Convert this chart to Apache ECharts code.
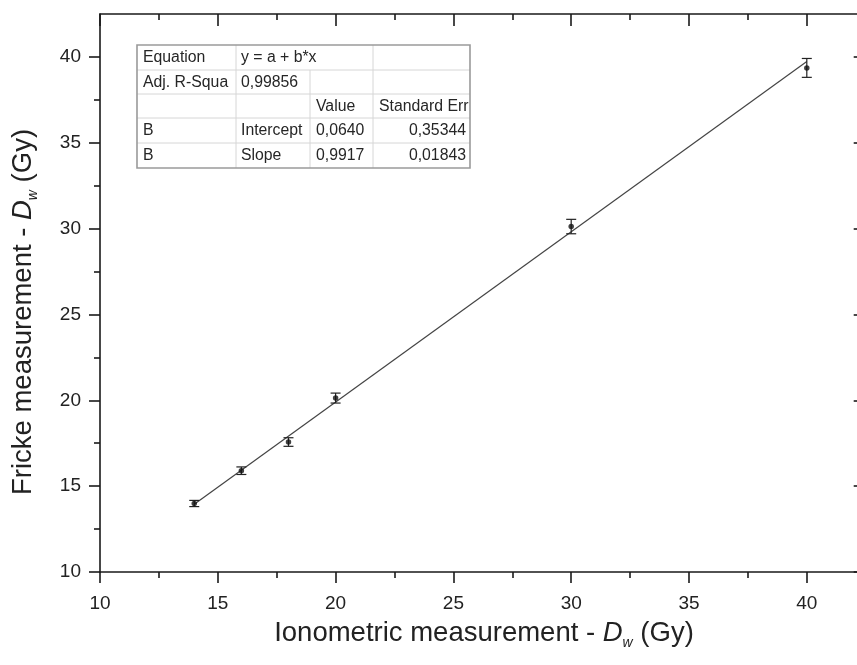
<!DOCTYPE html>
<html>
<head>
<meta charset="utf-8">
<script src="https://cdn.jsdelivr.net/npm/echarts@6/dist/echarts.min.js"></script>
<style>
html,body{margin:0;padding:0;background:#fff;overflow:hidden;width:857px;height:665px}
#c{width:866px;height:665px}
</style>
</head>
<body>
<div id="c"></div>
<script>
// ---- data ----
const ionometric = [14, 16, 18, 20, 30, 40];
const fricke     = [13.99, 15.9, 17.57, 20.13, 30.12, 39.36];
const frickeErr  = [0.18, 0.22, 0.25, 0.29, 0.42, 0.55];
const fitX = [14, 40];
const fitY = [13.95, 39.73];
const majorTicks = [10, 15, 20, 25, 30, 35, 40];
const minorTicks = [12.5, 17.5, 22.5, 27.5, 32.5, 37.5];
const tickLabels = ['10', '15', '20', '25', '30', '35', '40'];
const xTitle = ['Ionometric measurement - ', 'D', 'w', ' (Gy)'];
const yTitle = ['Fricke measurement - ', 'D', 'w', ' (Gy)'];
const tableRow1 = ['Equation', 'y = a + b*x', ''];
const tableRow2 = ['Adj. R-Squa', '0,99856', '', ''];
const tableRow3 = ['', '', 'Value', 'Standard Err'];
const tableRow4 = ['B', 'Intercept', '0,0640', '0,35344'];
const tableRow5 = ['B', 'Slope', '0,9917', '0,01843'];

// ---- layout / style ----
const FONT = '"Liberation Sans", Arial, Helvetica, sans-serif';
const AX = '#1a1a1a';
const AMIN = 10, AMAX = 42.5;

function tickAxis(pos, values, len, inside, showLine, showLabels, isX) {
  const a = {
    type: 'value', position: pos, min: AMIN, max: AMAX,
    splitLine: { show: false },
    axisLine: { show: showLine, onZero: false, lineStyle: { color: AX, width: 1.6 } },
    axisTick: { show: true, inside: inside, length: len, customValues: values,
                lineStyle: { color: AX, width: 1.6 } },
    axisLabel: { show: false }
  };
  if (showLabels) {
    a.axisLabel = {
      show: true, customValues: majorTicks, margin: isX ? 22 : 19,
      color: '#222', fontSize: 19, fontFamily: FONT,
      formatter: v => tickLabels[majorTicks.indexOf(v)]
    };
  }
  return a;
}

function rich(parts) {
  return {
    text: '{n|' + parts[0] + '}{i|' + parts[1] + '}{s|' + parts[2] + '}{n|' + parts[3] + '}',
    align: 'center', verticalAlign: 'middle',
    rich: {
      n: { fontSize: 27.5, fontFamily: FONT, fill: '#222', lineHeight: 34, verticalAlign: 'middle' },
      i: { fontSize: 27.5, fontFamily: FONT, fontStyle: 'italic', fill: '#222', lineHeight: 34, verticalAlign: 'middle' },
      s: { fontSize: 14, fontFamily: FONT, fontStyle: 'italic', fill: '#222', lineHeight: 10, verticalAlign: 'bottom' }
    }
  };
}

// table geometry
const colX = [137, 236, 310, 373, 470];
const rowY = [45, 70, 94, 118, 143, 168];
const tableGraphics = [];
tableGraphics.push({ type: 'rect', shape: { x: colX[0], y: rowY[0], width: colX[4] - colX[0], height: rowY[5] - rowY[0] },
  style: { fill: '#fff', stroke: 'none' }, z: 10 });
const thin = { stroke: '#d6d6d6', lineWidth: 1 };
for (let r = 1; r < 5; r++) {
  tableGraphics.push({ type: 'line', shape: { x1: colX[0], y1: rowY[r], x2: colX[4], y2: rowY[r] }, style: thin, z: 11 });
}
for (let r = 0; r < 5; r++) {
  const cols = r === 0 ? [1, 3] : [1, 2, 3];
  cols.forEach(c => tableGraphics.push({ type: 'line', shape: { x1: colX[c], y1: rowY[r], x2: colX[c], y2: rowY[r + 1] }, style: thin, z: 11 }));
}
tableGraphics.push({ type: 'rect', shape: { x: colX[0], y: rowY[0], width: colX[4] - colX[0], height: rowY[5] - rowY[0] },
  style: { fill: 'none', stroke: '#9a9a9a', lineWidth: 1.6 }, z: 12 });
function cellText(txt, x, y, align) {
  if (!txt) return;
  tableGraphics.push({ type: 'text', x: x, y: y, z: 13,
    style: { text: txt, fill: '#262626', fontSize: 15.8, fontFamily: FONT, align: align, verticalAlign: 'middle' } });
}
const rows = [tableRow1, tableRow2, tableRow3, tableRow4, tableRow5];
rows.forEach((row, r) => {
  const cy = (rowY[r] + rowY[r + 1]) / 2 + 0.5;
  if (r === 0) {
    cellText(row[0], colX[0] + 6, cy, 'left');
    cellText(row[1], colX[1] + 5, cy, 'left');
    cellText(row[2], colX[3] + 6, cy, 'left');
  } else {
    cellText(row[0], colX[0] + 6, cy, 'left');
    cellText(row[1], colX[1] + 5, cy, 'left');
    cellText(row[2], colX[2] + 6, cy, 'left');
    if (r >= 3) cellText(row[3], colX[4] - 4, cy, 'right');
    else cellText(row[3], colX[3] + 6, cy, 'left');
  }
});

const chart = echarts.init(document.getElementById('c'), null, { renderer: 'canvas' });
chart.setOption({
  animation: false,
  backgroundColor: '#fff',
  grid: { left: 100, top: 14, right: 0.3, bottom: 93, containLabel: false },
  xAxis: [
    tickAxis('bottom', majorTicks, 11, false, true, true, true),
    tickAxis('bottom', minorTicks, 6, false, false, false, true),
    tickAxis('top', majorTicks, 12, true, true, false, true),
    tickAxis('top', minorTicks, 6, true, false, false, true)
  ],
  yAxis: [
    tickAxis('left', majorTicks, 11, false, true, true, false),
    tickAxis('left', minorTicks, 6, false, false, false, false),
    tickAxis('right', majorTicks, 12, true, true, false, false),
    tickAxis('right', minorTicks, 6, true, false, false, false)
  ],
  series: [
    {
      type: 'line', xAxisIndex: 0, yAxisIndex: 0,
      data: fitX.map((x, i) => [x, fitY[i]]),
      showSymbol: false, symbol: 'none',
      lineStyle: { color: '#444', width: 1.2 }, z: 2, silent: true
    },
    {
      type: 'custom', xAxisIndex: 0, yAxisIndex: 0, z: 3,
      data: ionometric.map((x, i) => [x, fricke[i] - frickeErr[i], fricke[i] + frickeErr[i]]),
      renderItem: function (params, api) {
        const lo = api.coord([api.value(0), api.value(1)]);
        const hi = api.coord([api.value(0), api.value(2)]);
        const hw = 5;
        const st = { stroke: '#222', lineWidth: 1.2, fill: 'none' };
        return { type: 'group', children: [
          { type: 'line', shape: { x1: hi[0], y1: hi[1], x2: lo[0], y2: lo[1] }, style: st },
          { type: 'line', shape: { x1: hi[0] - hw, y1: hi[1], x2: hi[0] + hw, y2: hi[1] }, style: st },
          { type: 'line', shape: { x1: lo[0] - hw, y1: lo[1], x2: lo[0] + hw, y2: lo[1] }, style: st }
        ] };
      }
    },
    {
      type: 'scatter', xAxisIndex: 0, yAxisIndex: 0, z: 4,
      data: ionometric.map((x, i) => [x, fricke[i]]),
      symbol: 'circle', symbolSize: 5.5,
      itemStyle: { color: '#111' }
    }
  ],
  graphic: [
    { type: 'text', x: 484, y: 633, style: rich(xTitle), z: 20 },
    { type: 'text', x: 23.5, y: 312, rotation: Math.PI / 2, style: rich(yTitle), z: 20 }
  ].concat(tableGraphics)
});
</script>
</body>
</html>
